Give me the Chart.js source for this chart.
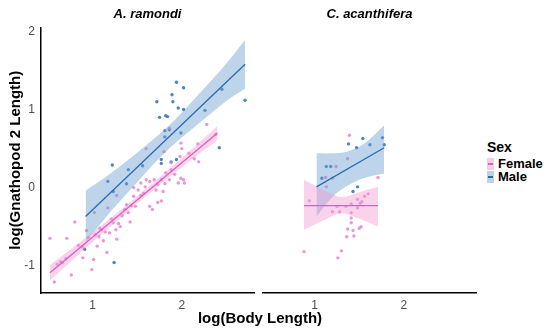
<!DOCTYPE html>
<html>
<head>
<meta charset="utf-8">
<script src="https://cdn.jsdelivr.net/npm/chart.js@4"></script>
<style>
  body { margin: 0; background: #fff; font-family: "Liberation Sans", Arial, sans-serif; }
  #wrap { position: relative; width: 550px; height: 331px; overflow: hidden; }
  canvas { position: absolute; top: 0; }
  #xtitle { position: absolute; left: 0; width: 520px; top: 309px; text-align: center; font-weight: bold; font-size: 15px; color: #000; }
  #legend { position: absolute; left: 487px; top: 139px; font-size: 13px; color: #000; }
  #legend .ttl { font-weight: bold; font-size: 14px; margin-bottom: 2px; }
  #legend .row { display: flex; align-items: center; height: 13px; font-weight: bold; }
  #legend .key { position: relative; width: 7px; height: 12px; margin-right: 4px; }
  #legend .key i { position: absolute; left: 1px; right: 1px; top: 5px; height: 2px; }
</style>
</head>
<body>
<div id="wrap">
  <canvas id="left" width="258" height="331" style="left:0"></canvas>
  <canvas id="right" width="222" height="331" style="left:258px"></canvas>
  <div id="xtitle">log(Body Length)</div>
  <div id="legend">
    <div class="ttl">Sex</div>
    <div class="row"><span class="key" style="background:#f6cbe7"><i style="background:#e05cbf"></i></span>Female</div>
    <div class="row"><span class="key" style="background:#bcd4ea"><i style="background:#2a6cb0"></i></span>Male</div>
  </div>
</div>
<script>
const panels = ['A. ramondi', 'C. acanthifera'];
const sexes = ['Female', 'Male'];
const xTicks = [1, 2];
const yTicks = [-1, 0, 1, 2];

// raw points [log body length, log gnathopod 2 length]
const ramondiFemale = [[0.52,-0.65],[0.57,-1.21],[0.64,-0.95],[0.70,-0.91],[0.71,-0.65],[0.76,-1.12],[0.80,-0.44],[0.88,-0.76],[0.89,-0.90],[0.95,-0.64],[0.99,-1.05],[1.01,-0.92],[1.02,-0.32],[1.03,-0.60],[1.07,-0.63],[1.10,-0.54],[1.14,-0.57],[1.17,-0.26],[1.19,-0.58],[1.23,-0.45],[1.27,-0.10],[1.27,-0.66],[1.26,-0.54],[1.29,-0.46],[1.31,-0.50],[1.36,-0.28],[1.38,-0.22],[1.40,-0.32],[1.43,-0.23],[1.46,-0.11],[1.42,-0.44],[1.48,-0.24],[1.51,-0.03],[1.54,-0.10],[1.57,-0.07],[1.59,0.01],[1.60,0.10],[1.64,-0.24],[1.67,-0.28],[1.69,0.10],[1.71,-0.03],[1.73,-0.19],[1.77,-0.17],[1.77,0.10],[1.81,0.05],[1.82,0.19],[1.86,0.10],[1.88,0.23],[1.92,0.17],[1.99,0.12],[2.03,0.06],[1.86,0.76],[1.60,0.50],[1.99,0.57],[2.00,0.50],[1.98,0.40],[2.18,0.56],[2.28,0.81],[2.14,0.37],[2.19,0.33],[1.88,0.32],[1.80,0.46],[2.08,0.44],[2.38,0.68],[1.64,0.08],[1.54,0.06],[1.46,0.00],[1.79,-0.05],[1.96,0.06],[2.02,0.10],[1.73,0.04],[0.60,-0.98],[0.66,-0.96],[0.84,-0.74],[1.12,-0.68],[1.33,-0.36],[1.21,-0.40],[1.08,-0.52],[0.93,-0.55],[1.16,-0.83],[1.05,-0.75]];
const ramondiMale = [[0.91,-0.79],[1.24,-0.96],[1.17,0.08],[1.23,-0.05],[1.38,0.05],[1.22,0.29],[1.40,0.23],[1.56,0.28],[1.77,0.36],[1.77,0.31],[1.88,0.33],[1.94,0.36],[1.81,0.73],[1.86,0.74],[1.81,0.65],[1.99,0.70],[1.75,0.90],[1.82,0.92],[1.84,0.91],[1.72,1.10],[1.89,1.19],[1.90,1.10],[1.96,1.02],[2.02,1.00],[1.94,1.35],[2.02,1.28],[2.26,0.99],[2.45,1.26],[2.71,1.12],[2.42,0.51]];
const acanFemale = [[0.88,-0.82],[0.94,-0.17],[1.12,0.13],[1.13,0.01],[1.20,0.12],[1.24,0.27],[1.37,0.37],[1.39,0.67],[1.71,0.13],[1.20,-0.31],[1.28,-0.31],[1.25,-0.24],[1.35,-0.24],[1.41,-0.21],[1.41,-0.32],[1.48,-0.15],[1.51,-0.20],[1.53,-0.18],[1.56,-0.11],[1.48,-0.26],[1.41,-0.39],[1.41,-0.45],[1.37,-0.53],[1.43,-0.55],[1.52,-0.50],[1.50,-0.52],[1.36,-0.63],[1.44,-0.62],[1.30,-0.81],[1.26,-0.90],[1.60,-0.08]];
const acanMale = [[1.08,0.12],[1.13,0.27],[1.18,0.27],[1.38,0.56],[1.47,0.51],[1.54,0.63],[1.62,0.55],[1.76,0.64],[1.78,0.55],[1.43,-0.05],[1.48,0.01]];

// fitted lines (start, end)
const ramondiFemaleFit = [[0.52,-1.09],[2.40,0.70]];
const ramondiMaleFit = [[0.92,-0.37],[2.71,1.58]];
const acanFemaleFit = [[0.88,-0.23],[1.71,-0.23]];
const acanMaleFit = [[1.02,0.01],[1.78,0.51]];

// confidence bands
const ramondiFemaleBandX = [0.52,0.9,1.3,1.6,2.0,2.40];
const ramondiFemaleUpper = [-0.99,-0.66,-0.30,-0.015,0.38,0.79];
const ramondiFemaleLower = [-1.19,-0.80,-0.40,-0.105,0.26,0.61];
const ramondiMaleBandX = [0.92,1.2,1.5,1.85,2.2,2.5,2.71];
const ramondiMaleUpper = [-0.04,0.18,0.45,0.79,1.21,1.59,1.89];
const ramondiMaleLower = [-0.70,-0.31,0.07,0.49,0.83,1.11,1.27];
const acanFemaleBandX = [0.88,1.1,1.3,1.5,1.71];
const acanFemaleUpper = [0.10,-0.03,-0.12,-0.06,0.01];
const acanFemaleLower = [-0.54,-0.42,-0.33,-0.40,-0.50];
const acanMaleBandX = [1.02,1.2,1.36,1.55,1.78];
const acanMaleUpper = [0.44,0.44,0.46,0.56,0.80];
const acanMaleLower = [-0.37,-0.12,0.02,0.12,0.18];

const colors = {
  Female: { pt: 'rgba(230,125,205,0.8)', line: '#e05cbf', band: 'rgba(240,150,210,0.42)' },
  Male:   { pt: 'rgba(55,120,190,0.9)', line: '#2a6cb0', band: 'rgba(110,160,210,0.45)' }
};

const pts = arr => arr.map(p => ({ x: p[0], y: p[1] }));
const zip = (xs, ys) => xs.map((x, i) => ({ x: x, y: ys[i] }));

function groupSets(sex, points, fit, bx, up, lo) {
  const c = colors[sex];
  return [
    { type: 'scatter', data: pts(points), pointRadius: 1.7, pointBackgroundColor: c.pt, pointBorderWidth: 0, order: 3 },
    { type: 'line', data: zip(bx, up), borderWidth: 0, pointRadius: 0, tension: 0.35, fill: '+1', backgroundColor: c.band, order: 2 },
    { type: 'line', data: zip(bx, lo), borderWidth: 0, pointRadius: 0, tension: 0.35, fill: false, order: 2 },
    { type: 'line', data: pts(fit), borderColor: c.line, borderWidth: 1.3, pointRadius: 0, fill: false, order: 1 }
  ];
}

function makeChart(id, title, datasets, showY, padLeft) {
  new Chart(document.getElementById(id), {
    data: { datasets: datasets },
    options: {
      responsive: false,
      animation: false,
      layout: { padding: { left: padLeft, right: 1, top: 0, bottom: 0 } },
      plugins: {
        legend: { display: false },
        tooltip: { enabled: false },
        title: {
          display: true, text: title, fullSize: false, color: '#000',
          font: { family: 'Liberation Sans', size: 13, weight: 'bold', style: 'italic' },
          padding: { top: 7, bottom: 5 }
        }
      },
      scales: {
        x: {
          type: 'linear', min: 0.42, max: 2.81,
          afterBuildTicks: s => { s.ticks = xTicks.map(v => ({ value: v })); },
          afterFit: s => { s.height = 38; },
          grid: { display: false, drawTicks: false },
          border: { display: true, color: '#000', width: 1.5 },
          ticks: { color: '#4d4d4d', padding: 5, font: { family: 'Liberation Sans', size: 12 } }
        },
        y: {
          type: 'linear', min: -1.35, max: 2.05, display: showY,
          afterBuildTicks: s => { s.ticks = yTicks.map(v => ({ value: v })); },
          afterFit: s => { s.width = showY ? 41 : 0; },
          grid: { display: false, drawTicks: false },
          border: { display: true, color: '#000', width: 1.5 },
          ticks: { color: '#4d4d4d', padding: 6, font: { family: 'Liberation Sans', size: 12 } },
          title: { display: true, text: 'log(Gnathopod 2 Length)', color: '#000', padding: { top: 7, bottom: 2 },
                   font: { family: 'Liberation Sans', size: 15, weight: 'bold' } }
        }
      }
    }
  });
}

makeChart('left', panels[0],
  groupSets(sexes[0], ramondiFemale, ramondiFemaleFit, ramondiFemaleBandX, ramondiFemaleUpper, ramondiFemaleLower)
    .concat(groupSets(sexes[1], ramondiMale, ramondiMaleFit, ramondiMaleBandX, ramondiMaleUpper, ramondiMaleLower)),
  true, 0);

makeChart('right', panels[1],
  groupSets(sexes[0], acanFemale, acanFemaleFit, acanFemaleBandX, acanFemaleUpper, acanFemaleLower)
    .concat(groupSets(sexes[1], acanMale, acanMaleFit, acanMaleBandX, acanMaleUpper, acanMaleLower)),
  false, 5);
</script>
</body>
</html>
